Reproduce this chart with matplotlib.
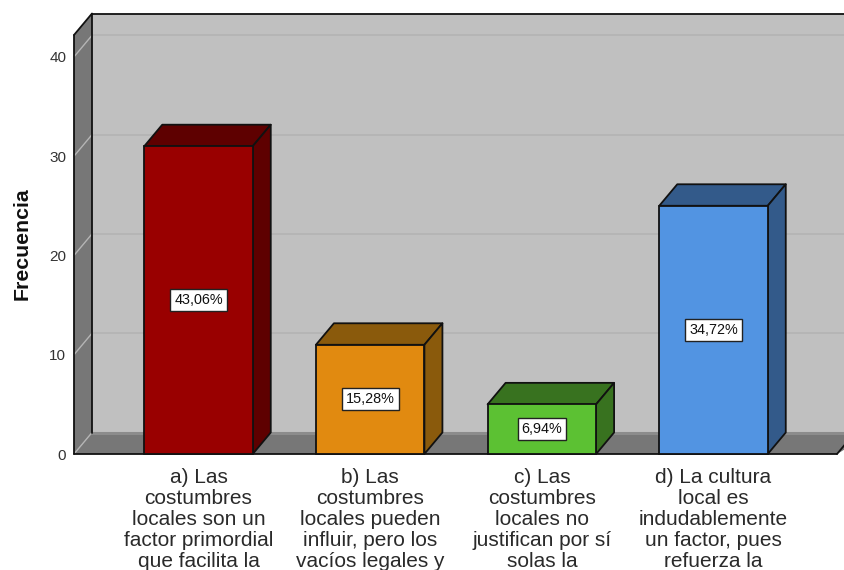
import matplotlib
matplotlib.use("Agg")
import matplotlib.pyplot as plt
from matplotlib.patches import Polygon

plt.rcParams['font.family'] = ['Liberation Sans', 'DejaVu Sans']

categories = [
    "a) Las\ncostumbres\nlocales son un\nfactor primordial\nque facilita la",
    "b) Las\ncostumbres\nlocales pueden\ninfluir, pero los\nvacíos legales y",
    "c) Las\ncostumbres\nlocales no\njustifican por sí\nsolas la",
    "d) La cultura\nlocal es\nindudablemente\nun factor, pues\nrefuerza la",
]
counts = [31, 11, 5, 25]
percent_labels = ["43,06%", "15,28%", "6,94%", "34,72%"]
front_colors = ["#990000", "#E18A10", "#5CC133", "#5294E2"]
dark_colors = ["#5E0000", "#8A5A0C", "#38721F", "#335A8A"]
y_ticks = [0, 10, 20, 30, 40]

W, H = 844, 570
fig = plt.figure(figsize=(W / 100, H / 100), dpi=100, facecolor="white")
L, R, B, T = 74, 837, 454, 35
ax = fig.add_axes([L / W, 1 - B / H, (R - L) / W, (B - T) / H])
ymax = 42.2
spacing = 171.67
x0 = -(198.5 - L) / spacing
x1 = x0 + (R - L) / spacing
ax.set_xlim(x0, x1)
ax.set_ylim(0, ymax)
dx = 18 / spacing
dy = 21.5 * ymax / (B - T)
bar_w = 108.5 / spacing
lw = 1.3
ink = "#111111"


def poly(pts, fc, ec=ink, z=1, lw_=lw):
    ax.add_patch(Polygon(pts, closed=True, facecolor=fc, edgecolor=ec,
                         linewidth=lw_, zorder=z, clip_on=False, joinstyle="round"))


def seg(xa, xb, ya, yb, color=ink, w=lw, z=1.4):
    ax.plot([xa, xb], [ya, yb], color=color, lw=w, zorder=z, clip_on=False,
            solid_capstyle="round")


# Walls and floor
xe = x1 + 2 * dx
poly([(x0 + dx, dy), (xe, dy), (xe, ymax + dy), (x0 + dx, ymax + dy)], "#C0C0C0", ec="none", z=1)
poly([(x0, 0), (x0 + dx, dy), (xe, dy), (xe, 0)], "#777777", ec="none", z=1.2)
poly([(x1, 0), (x1 + dx, dy), (xe, dy), (xe, 0)], "white", ec="none", z=1.21)
poly([(x1, 0), (x1 + dx, dy), (xe, dy)], "#777777", ec="none", z=1.22)
poly([(x0, 0), (x0 + dx, dy), (x0 + dx, ymax + dy), (x0, ymax)], "#777777", ec="none", z=1.2)
seg(x0 + dx, xe, dy * 0.97, dy * 0.97, color="#8C8C8C", w=2.2, z=1.25)

# Grid
for v in y_ticks:
    if v > 0:
        seg(x0 + dx, xe, v + dy, v + dy, color="#B5B5B5", w=1.4, z=1.1)
    seg(x0, x0 + dx, v, v + dy, color="#B5B5B5", w=1.0, z=1.3)

# Frame edges
seg(x0, x1, 0, 0)
seg(x1, x1 + dx, 0, dy)
seg(x0, x0, 0, ymax)
seg(x0 + dx, x0 + dx, dy, ymax + dy)
seg(x0, x0 + dx, ymax, ymax + dy)
seg(x0 + dx, xe, ymax + dy, ymax + dy)

# Bars
xs = list(range(len(counts)))
for x, c, fc, dc, lab in zip(xs, counts, front_colors, dark_colors, percent_labels):
    l, r = x - bar_w / 2, x + bar_w / 2
    poly([(l, c), (r, c), (r + dx, c + dy), (l + dx, c + dy)], dc, z=2)
    poly([(r, 0), (r + dx, dy), (r + dx, c + dy), (r, c)], dc, z=2)
    ax.bar(x, c, width=bar_w, color=fc, edgecolor=ink, linewidth=lw, zorder=3, clip_on=False)
    ax.text(x, c / 2, lab, ha="center", va="center", fontsize=10.4, color="#111111", zorder=5,
            bbox=dict(boxstyle="square,pad=0.27", fc="white", ec="#222222", lw=1.0))

ax.set_xticks(xs)
ax.set_xticklabels(categories, fontsize=15, color="#2A2A2A", linespacing=1.13)
ax.set_yticks(y_ticks)
ax.set_yticklabels([str(v) for v in y_ticks], fontsize=11, color="#333333")
ax.tick_params(axis="x", length=0, pad=10)
ax.tick_params(axis="y", length=0, pad=5.5)
for s in ax.spines.values():
    s.set_visible(False)
ax.patch.set_visible(False)
fig.text(22 / W, 1 - 244 / H, "Frecuencia", rotation=90, ha="center", va="center",
         fontsize=15.3, fontweight="bold", color="#111111")

fig.savefig("out.png", dpi=100)
